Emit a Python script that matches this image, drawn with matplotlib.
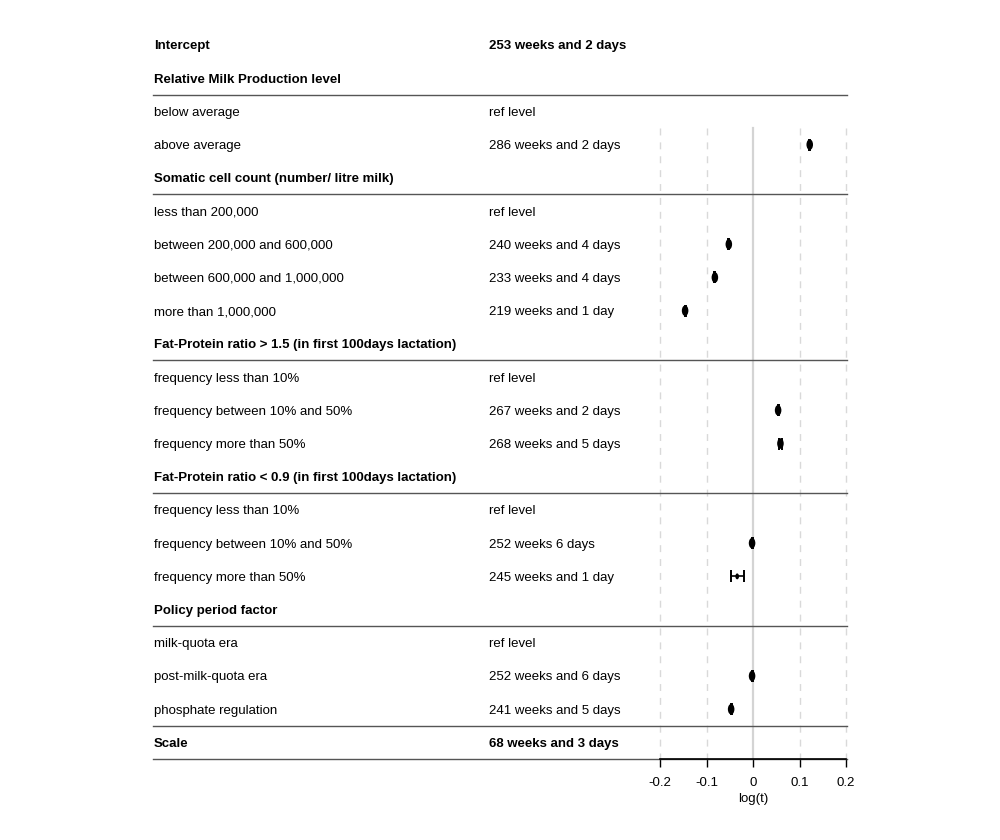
"""Forest-style table of survival-time effects (log(t) scale)."""

import matplotlib

matplotlib.use("Agg")
import matplotlib.pyplot as plt  # noqa: E402
import matplotlib.transforms as mtransforms  # noqa: E402
import numpy as np  # noqa: E402
from matplotlib.path import Path  # noqa: E402

plt.rcParams["font.family"] = ["Liberation Sans", "DejaVu Sans"]

# row labels, bold rows are headers
row_labels = [
    "Intercept",
    "Relative Milk Production level",
    "below average",
    "above average",
    "Somatic cell count (number/ litre milk)",
    "less than 200,000",
    "between 200,000 and 600,000",
    "between 600,000 and 1,000,000",
    "more than 1,000,000",
    "Fat-Protein ratio > 1.5 (in first 100days lactation)",
    "frequency less than 10%",
    "frequency between 10% and 50%",
    "frequency more than 50%",
    "Fat-Protein ratio < 0.9 (in first 100days lactation)",
    "frequency less than 10%",
    "frequency between 10% and 50%",
    "frequency more than 50%",
    "Policy period factor",
    "milk-quota era",
    "post-milk-quota era",
    "phosphate regulation",
    "Scale",
]
row_values = [
    "253 weeks and 2 days", "",
    "ref level", "286 weeks and 2 days", "",
    "ref level", "240 weeks and 4 days", "233 weeks and 4 days",
    "219 weeks and 1 day", "",
    "ref level", "267 weeks and 2 days", "268 weeks and 5 days", "",
    "ref level", "252 weeks 6 days", "245 weeks and 1 day", "",
    "ref level", "252 weeks and 6 days", "241 weeks and 5 days",
    "68 weeks and 3 days",
]
bold_rows = [0, 1, 4, 9, 13, 17, 21]

# estimates on log(t) scale (nan = no point)
nan = np.nan
estimate = [nan, nan, nan, 0.122, nan, nan, -0.052, -0.082, -0.146, nan,
            nan, 0.054, 0.059, nan, nan, -0.002, -0.034, nan, nan, -0.002,
            -0.047, nan]
ci_low = [nan, nan, nan, 0.121, nan, nan, -0.053, -0.083, -0.147, nan,
          nan, 0.053, 0.055, nan, nan, -0.003, -0.047, nan, nan, -0.003,
          -0.048, nan]
ci_high = [nan, nan, nan, 0.123, nan, nan, -0.051, -0.081, -0.145, nan,
           nan, 0.055, 0.063, nan, nan, -0.001, -0.019, nan, nan, -0.001,
           -0.046, nan]
separator_after = [1, 4, 9, 13, 17, 20, 21]
x_ticks = [-0.2, -0.1, 0.0, 0.1, 0.2]

fig = plt.figure(figsize=(10.0, 8.4), dpi=100)
ax = fig.add_axes([0.660, 0.0964, 0.186, 0.8698])
n_rows = len(row_labels)
ax.set_ylim(n_rows - 0.5, -0.5)
ax.set_xlim(-0.2, 0.2)

# vertical reference lines
for xt in x_ticks:
    if xt == 0.0:
        ax.plot([xt, xt], [2.5, n_rows - 0.5], color="#d4d4d4", lw=1.6,
                zorder=1, clip_on=False)
    else:
        ax.plot([xt, xt], [2.5, n_rows - 0.5], color="#d9d9d9", lw=1.0,
                ls=(0, (5, 5)), zorder=1, clip_on=False)

# ellipse marker
ell = Path.unit_circle()
ell = Path(ell.vertices * np.array([0.62, 1.0]), ell.codes)

est = np.array(estimate)
lo = np.array(ci_low)
hi = np.array(ci_high)
rows = np.arange(n_rows)
ok = ~np.isnan(est)
ax.errorbar(est[ok], rows[ok], xerr=[est[ok] - lo[ok], hi[ok] - est[ok]],
            fmt="none", ecolor="black", elinewidth=1.2, capsize=4,
            capthick=1.4, zorder=5)
# box size follows precision: wide interval -> small point
width = hi[ok] - lo[ok]
sizes = np.where(width > 0.01, 18, 58)
ax.scatter(est[ok], rows[ok], marker=ell, s=sizes, color="black", zorder=4,
           linewidths=0)

for s in ("top", "left", "right"):
    ax.spines[s].set_visible(False)
ax.spines["bottom"].set_color("black")
ax.spines["bottom"].set_linewidth(1.2)
ax.set_yticks([])
ax.set_xticks(x_ticks)
ax.set_xticklabels(["-0.2", "-0.1", "0", "0.1", "0.2"])
ax.tick_params(axis="x", length=6, width=1.0, labelsize=9.5, pad=7)
ax.set_xlabel("log(t)", fontsize=9.5, labelpad=3)
ax.patch.set_visible(False)

# table text and separators
trans = mtransforms.blended_transform_factory(fig.transFigure, ax.transData)
for i, (lab, val) in enumerate(zip(row_labels, row_values)):
    weight = "bold" if i in bold_rows else "normal"
    ax.text(0.154, i, lab, transform=trans, fontsize=9.5, fontweight=weight,
            va="center_baseline", ha="left")
    if val:
        ax.text(0.489, i, val, transform=trans, fontsize=9.5,
                fontweight=weight, va="center_baseline", ha="left")
for r in separator_after:
    ax.plot([0.153, 0.847], [r + 0.5, r + 0.5], transform=trans,
            color="#555555", lw=1.0, clip_on=False, zorder=2)

fig.savefig("out.png", dpi=100, facecolor="white")
plt.close(fig)
